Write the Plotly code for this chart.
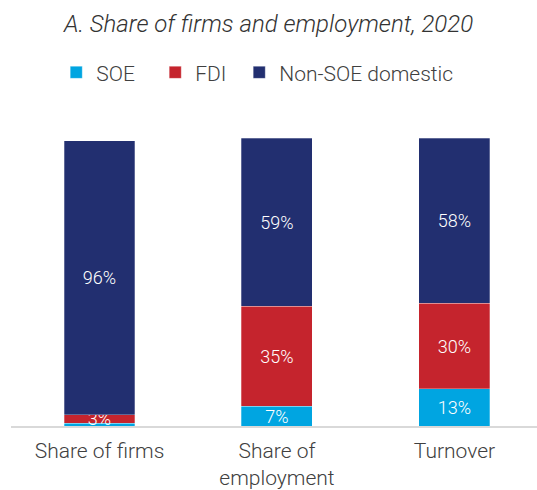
import plotly.graph_objects as go

# Shares (%) by ownership type, 2020
categories = ["Share of firms", "Share of<br>employment", "Turnover"]
soe = [1, 7, 13]
fdi = [3, 35, 30]
non_soe = [96, 59, 58]

series_names = ["SOE", "FDI", "Non-SOE domestic"]
series_colors = ["#00A5E1", "#C5242D", "#222F70"]
legend_ids = ["legend", "legend2", "legend3"]
legend_x = [0.0860, 0.2742, 0.4339]

FONT = "Roboto"
TEXT_GREY = "#404040"


def pct_labels(values, min_shown=2):
    return [f"{v}%" if v >= min_shown else "" for v in values]


fig = go.Figure()
for name, vals, color, lid in zip(series_names, [soe, fdi, non_soe], series_colors, legend_ids):
    fig.add_trace(go.Bar(
        name=name,
        x=categories,
        y=vals,
        width=0.4,
        legend=lid,
        marker=dict(color=color, line=dict(color="rgba(255,255,255,0.35)", width=0.8)),
        text=pct_labels(vals),
        textposition="inside",
        insidetextanchor="middle",
        textangle=0,
        textfont=dict(family=FONT, size=18, color="white", weight=300),
        cliponaxis=False,
    ))

legend_style = dict(
    orientation="h",
    xanchor="left",
    y=(429 - 72) / 291, yanchor="middle",
    font=dict(family=FONT, size=21, color=TEXT_GREY, weight=300),
    bgcolor="rgba(0,0,0,0)",
)

fig.update_layout(
    barmode="stack",
    width=537,
    height=490,
    margin=dict(l=11, r=0, t=138, b=61),
    paper_bgcolor="white",
    plot_bgcolor="white",
    uniformtext=dict(mode="show", minsize=18),
    title=dict(
        text="A. Share of firms and employment, 2020",
        x=0.5, xref="container", xanchor="center",
        y=1 - 24 / 490, yref="container", yanchor="middle",
        font=dict(family=FONT, size=24, color="#333333", style="italic", weight=300),
    ),
    legend=dict(x=legend_x[0], **legend_style),
    legend2=dict(x=legend_x[1], **legend_style),
    legend3=dict(x=legend_x[2], **legend_style),
    showlegend=True,
    xaxis=dict(
        range=[-0.4986, 2.465],
        showline=True, linecolor="#D9D9D9", linewidth=1.5,
        showgrid=False, zeroline=False, ticks="",
        ticklabelstandoff=5,
        tickfont=dict(family=FONT, size=21, color=TEXT_GREY, weight=300),
        fixedrange=True,
    ),
    yaxis=dict(
        range=[0, 101],
        visible=False, showgrid=False, zeroline=False,
        fixedrange=True,
    ),
)

fig.write_html("out.html")
